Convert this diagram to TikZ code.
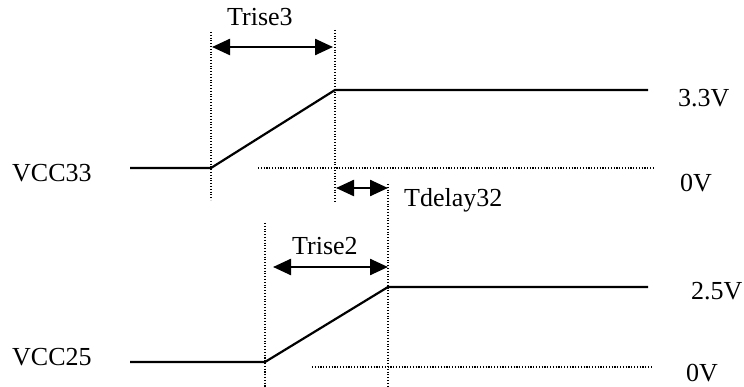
\documentclass[tikz,border=0pt]{standalone}
\usepackage{fontspec}
\setmainfont{Liberation Serif}
\usetikzlibrary{arrows.meta}
\begin{document}
\begin{tikzpicture}[x=1pt,y=-1pt,
  wave/.style={line width=2.2pt,line join=round},
  guide/.style={line width=1.2pt,dash pattern=on 1.1pt off 1.7pt},
  span/.style={line width=2.4pt,{Triangle[length=18pt,width=16pt]}-{Triangle[length=18pt,width=16pt]}},
  lbl/.style={anchor=base west,inner sep=0pt,font=\fontsize{26}{30}\selectfont}]
\useasboundingbox (0,0) rectangle (744,387);
% top waveform
\coordinate (a0) at (130,168);
\coordinate (a1) at (211,168);
\coordinate (a2) at (335,90);
\coordinate (a3) at (648,90);
\draw[wave] (a0) -- (a1) -- (a2) -- (a3);
% top guides
\coordinate (v1t) at (211,32);  \coordinate (v1b) at (211,200);
\coordinate (v2t) at (335,30);  \coordinate (v2b) at (335,202);
\draw[guide] (v1t) -- (v1b);
\draw[guide] (v2t) -- (v2b);
\coordinate (z1a) at (258,168); \coordinate (z1b) at (653,168);
\draw[guide] (z1a) -- (z1b);
% Trise3
\coordinate (r3a) at (212,47); \coordinate (r3b) at (333,47);
\draw[span] (r3a) -- (r3b);
% Tdelay32
\coordinate (tda) at (336,188); \coordinate (tdb) at (388,188);
\draw[span] (tda) -- (tdb);
% bottom waveform
\coordinate (b0) at (130,362);
\coordinate (b1) at (265,362);
\coordinate (b2) at (388,287);
\coordinate (b3) at (648,287);
\draw[wave] (b0) -- (b1) -- (b2) -- (b3);
\coordinate (v3t) at (265,223); \coordinate (v3b) at (265,387);
\coordinate (v4t) at (388,184); \coordinate (v4b) at (388,387);
\draw[guide] (v3t) -- (v3b);
\draw[guide] (v4t) -- (v4b);
\coordinate (z2a) at (312,367); \coordinate (z2b) at (653,367);
\draw[guide] (z2a) -- (z2b);
% Trise2
\coordinate (r2a) at (273,267); \coordinate (r2b) at (388,267);
\draw[span] (r2a) -- (r2b);
% labels
\node[lbl] (lvcc33) at (12,182) {VCC33};
\node[lbl] (lvcc25) at (12,365) {VCC25};
\node[lbl] (ltr3) at (227,26) {Trise3};
\node[lbl] (ltd) at (404,207) {Tdelay32};
\node[lbl] (ltr2) at (292,255) {Trise2};
\node[lbl] (l33) at (678,107) {3.3V};
\node[lbl] (l0a) at (680,192) {0V};
\node[lbl] (l25) at (691,300) {2.5V};
\node[lbl] (l0b) at (686,381) {0V};
\end{tikzpicture}
\end{document}
